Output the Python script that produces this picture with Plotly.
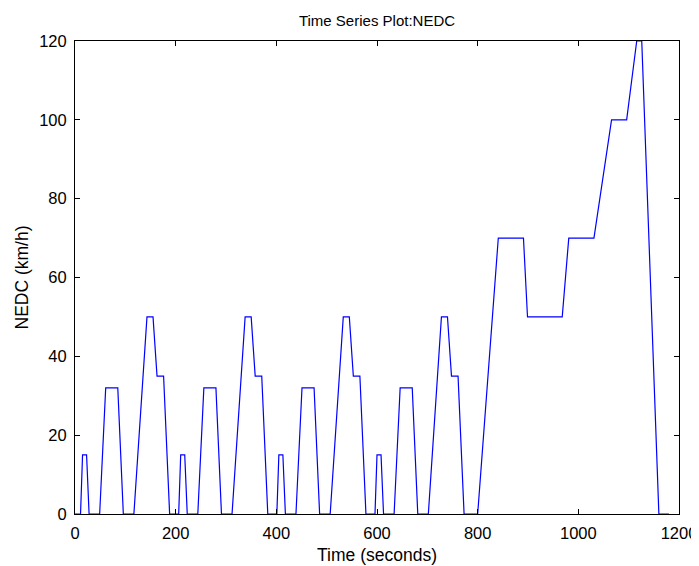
import plotly.graph_objects as go

# ECE-15 urban cycle breakpoints (time s, speed km/h), repeated 4x
ece_t = [0, 11, 15, 23, 28, 49, 61, 85, 96, 117, 143, 155, 163, 176, 188, 195]
ece_v = [0, 0, 15, 15, 0, 0, 32, 32, 0, 0, 50, 50, 35, 35, 0, 0]
# EUDC breakpoints (starting at 780 s)
eudc_t = [780, 800, 841, 891, 899, 968, 981, 1031, 1066, 1096, 1116, 1126, 1160, 1180]
eudc_v = [0, 0, 70, 70, 50, 50, 70, 70, 100, 100, 120, 120, 0, 0]

x_ticks = [0, 200, 400, 600, 800, 1000, 1200]
y_ticks = [0, 20, 40, 60, 80, 100, 120]

t, v = [], []
for k in range(4):
    for a, b in zip(ece_t, ece_v):
        t.append(a + 195 * k)
        v.append(b)
t += eudc_t
v += eudc_v

fig = go.Figure(go.Scatter(x=t, y=v, mode="lines", line=dict(color="#0000ff", width=1.2)))

W, H = 691, 558
fam = "Liberation Sans, Arial, sans-serif"
tickfont = dict(family=fam, size=16.5, color="black")
labfont = dict(family=fam, size=17.5, color="black")
axis_common = dict(showline=True, linecolor="black", linewidth=1, mirror="allticks",
                   ticks="inside", ticklen=5, tickcolor="black", showgrid=False,
                   zeroline=False, tickfont=tickfont, automargin=False)
fig.update_layout(
    width=W, height=H,
    margin=dict(l=67, r=20, t=33, b=52),
    paper_bgcolor="white", plot_bgcolor="white",
    showlegend=False,
    title=dict(text="Time Series Plot:NEDC", x=(67 + (W - 20)) / 2 / W, xanchor="center",
               y=1 - 12.5 / H, yanchor="middle",
               font=dict(family=fam, size=15, color="black")),
    xaxis=dict(range=[0, 1200], tickvals=x_ticks, ticklabelstandoff=4,
               title=dict(text="Time (seconds)", standoff=7, font=labfont), **axis_common),
    yaxis=dict(range=[0, 120], tickvals=y_ticks, ticklabelstandoff=4,
               title=dict(text="NEDC (km/h)", standoff=6, font=labfont), **axis_common),
)
fig.write_html("out.html")
